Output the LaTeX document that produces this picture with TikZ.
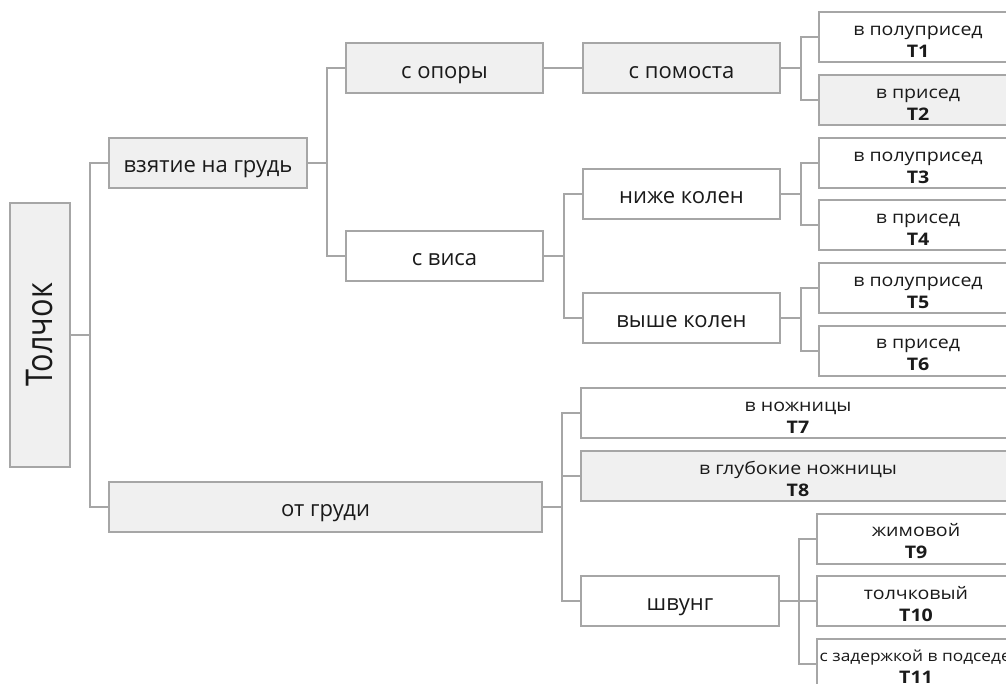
\documentclass[tikz,border=0pt]{standalone}
\usepackage{fontspec}
\setmainfont{Open Sans}
\newfontfamily\leaffont{Open Sans}[FakeStretch=1.13]
\usetikzlibrary{positioning}

\definecolor{linegray}{HTML}{A6A6A6}
\definecolor{boxgray}{HTML}{F0F0F0}
\definecolor{textdark}{HTML}{1A1A1A}

\newcommand\leaflabel[2]{\begin{tabular}[t]{@{}c@{}}#1\\\textbf{#2}\end{tabular}}

\begin{document}
\begin{tikzpicture}[x=0.75pt, y=-0.75pt,
        box/.style={draw=linegray, line width=1.5pt, fill=white, inner sep=0pt,
            minimum height=37.5pt, text=textdark},
        mid/.style={box, minimum width=148pt, text height=16pt, text depth=1.2pt,
            font=\fontsize{16.5}{20}\selectfont},
        leaf/.style={box, minimum width=148.5pt, text height=2pt, text depth=4.8pt,
            font=\leaffont\fontsize{13}{16.5}\selectfont},
        wide/.style={leaf, minimum width=325.5pt},
        shaded/.style={fill=boxgray},
        conn/.style={draw=linegray, line width=1.5pt}]
        \useasboundingbox (0,0) rectangle (1006,684);
        \clip (0,0) rectangle (1006,684);

        % root
        \node[box, shaded, minimum width=45pt, minimum height=198pt] (tolchok) at (40,335)
            {\rotatebox{90}{\scalebox{1}[1.2]{\fontsize{23}{26}\selectfont Толчок}}};

        % first level
        \node[mid, shaded, minimum width=148.5pt] (vzyatie) at (208,163) {взятие на грудь};
        \node[mid, shaded, minimum width=325pt] (otgrudi) at (325.5,507) {от груди};

        % second level
        \node[mid, shaded] (sopory) at (444.5,68.5) {с опоры};
        \node[mid] (svisa) at (444.5,256) {с виса};
        \node[mid, shaded] (spomosta) at (681.5,68.5) {с помоста};
        \node[mid] (nizhe) at (681.5,194) {ниже колен};
        \node[mid] (vyshe) at (681.5,318) {выше колен};
        \node[mid, minimum width=148.5pt] (shvung) at (680,601) {швунг};

        % leaves
        \node[leaf] (t1) at (918,37.5) {\leaflabel{в полуприсед}{T1}};
        \node[leaf, shaded] (t2) at (918,100) {\leaflabel{в присед}{T2}};
        \node[leaf] (t3) at (918,163) {\leaflabel{в полуприсед}{T3}};
        \node[leaf] (t4) at (918,225.5) {\leaflabel{в присед}{T4}};
        \node[leaf] (t5) at (918,288) {\leaflabel{в полуприсед}{T5}};
        \node[leaf] (t6) at (918,350.5) {\leaflabel{в присед}{T6}};
        \node[wide] (t7) at (798,413) {\leaflabel{в ножницы}{T7}};
        \node[wide, shaded] (t8) at (798,476) {\leaflabel{в глубокие ножницы}{T8}};
        \node[leaf] (t9) at (916,538.5) {\leaflabel{жимовой}{T9}};
        \node[leaf] (t10) at (916,601) {\leaflabel{толчковый}{T10}};
        \node[leaf] (t11) at (916,663.5)
            {\leaflabel{\makebox[148.5pt][l]{\hspace*{2pt}\fontsize{11.5}{16.5}\selectfont с задержкой в подседе}}{T11}};

        % connectors
        \draw[conn] (tolchok.east) -- ++(19,0) |- (vzyatie.west);
        \draw[conn] (tolchok.east) -- ++(19,0) |- (otgrudi.west);
        \draw[conn] (vzyatie.east) -- ++(19,0) |- (sopory.west);
        \draw[conn] (vzyatie.east) -- ++(19,0) |- (svisa.west);
        \draw[conn] (sopory.east) -- (spomosta.west);
        \draw[conn] (svisa.east) -- ++(20,0) |- (nizhe.west);
        \draw[conn] (svisa.east) -- ++(20,0) |- (vyshe.west);
        \draw[conn] (spomosta.east) -- ++(20,0) |- (t1.west);
        \draw[conn] (spomosta.east) -- ++(20,0) |- (t2.west);
        \draw[conn] (nizhe.east) -- ++(20,0) |- (t3.west);
        \draw[conn] (nizhe.east) -- ++(20,0) |- (t4.west);
        \draw[conn] (vyshe.east) -- ++(20,0) |- (t5.west);
        \draw[conn] (vyshe.east) -- ++(20,0) |- (t6.west);
        \draw[conn] (otgrudi.east) -- ++(19,0) |- (t7.west);
        \draw[conn] (otgrudi.east) -- ++(19,0) |- (t8.west);
        \draw[conn] (otgrudi.east) -- ++(19,0) |- (shvung.west);
        \draw[conn] (shvung.east) -- ++(19,0) |- (t9.west);
        \draw[conn] (shvung.east) -- ++(19,0) |- (t10.west);
        \draw[conn] (shvung.east) -- ++(19,0) |- (t11.west);
\end{tikzpicture}
\end{document}
